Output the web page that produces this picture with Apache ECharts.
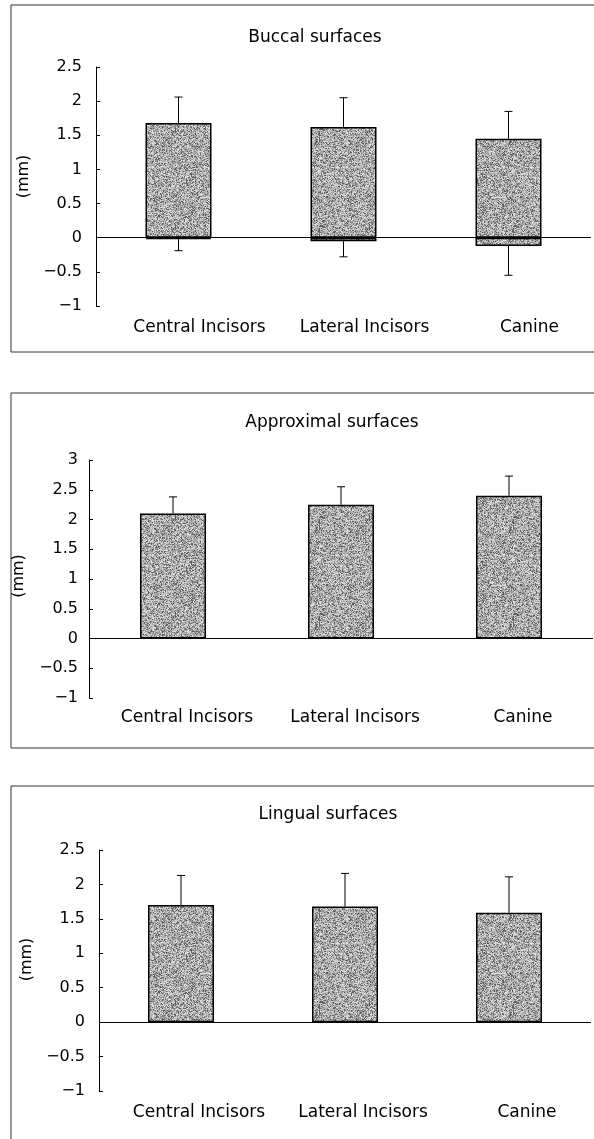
<!DOCTYPE html>
<html>
<head>
<meta charset="utf-8">
<script src="https://cdn.jsdelivr.net/npm/echarts@6/dist/echarts.min.js"></script>
<style>
  html, body { margin: 0; padding: 0; background: #fff; }
  #main { width: 594px; height: 1139px; }
</style>
</head>
<body>
<div id="main"></div>
<script>
// data (mm)
var categories = ['Central Incisors', 'Lateral Incisors', 'Canine'];

var buccalGain = [1.68, 1.62, 1.45];
var buccalGainSD = [0.38, 0.43, 0.40];
var buccalLoss = [-0.02, -0.05, -0.12];
var buccalLossSD = [0.17, 0.23, 0.43];

var approximalMean = [2.10, 2.25, 2.40];
var approximalSD = [0.28, 0.30, 0.33];

var lingualMean = [1.70, 1.68, 1.59];
var lingualSD = [0.43, 0.48, 0.52];

var titles = ['Buccal surfaces', 'Approximal surfaces', 'Lingual surfaces'];
var yMin = [-1, -1, -1];
var yMax = [2.5, 3, 2.5];

// stippled grey fill like the printed figure
function makeStipple() {
    var c = document.createElement('canvas');
    c.width = 97; c.height = 97;
    var ctx = c.getContext('2d');
    var img = ctx.createImageData(97, 97);
    var seed = 12345;
    for (var i = 0; i < 97 * 97; i++) {
        seed = (seed * 1103515245 + 12345) & 0x7fffffff;
        var r = (seed >> 8) % 256;
        var g = r < 45 ? 95 : (r < 120 ? 150 : (r < 200 ? 185 : 220));
        img.data[i * 4] = g; img.data[i * 4 + 1] = g; img.data[i * 4 + 2] = g; img.data[i * 4 + 3] = 255;
    }
    ctx.putImageData(img, 0, 0);
    return c;
}
var stipple = makeStipple();

var chartDom = document.getElementById('main');
var myChart = echarts.init(chartDom);

// panel geometry
var panels = [
    { left: 96, top: 67, width: 495, height: 239, titleX: 310, titleY: 24, labelMargin: 13, labelShift: 42, labelGap: 14, nameGap: 58, namePad: 20, frameY: 5, frameH: 347 },
    { left: 89, top: 460, width: 504, height: 238, titleX: 327, titleY: 409, labelMargin: 11, labelShift: 28, labelGap: 11, nameGap: 62, namePad: 6, frameY: 393, frameH: 355 },
    { left: 99, top: 850, width: 492, height: 241, titleX: 323, titleY: 801, labelMargin: 13, labelShift: 36, labelGap: 14, nameGap: 63, namePad: 22, frameY: 786, frameH: 420 }
];

var fontFam = 'DejaVu Sans';

function errorSeries(idx, means, sds, dir) {
    return {
        type: 'custom',
        xAxisIndex: idx,
        yAxisIndex: idx,
        z: 5,
        data: means.map(function (m, i) { return [i, m, sds[i] * dir]; }),
        renderItem: function (params, api) {
            var p0 = api.coord([api.value(0), api.value(1)]);
            var p1 = api.coord([api.value(0), api.value(1) + api.value(2)]);
            var st = { stroke: '#000', lineWidth: 1 };
            return {
                type: 'group',
                children: [
                    { type: 'line', shape: { x1: p0[0], y1: p0[1], x2: p1[0], y2: p1[1] }, style: st },
                    { type: 'line', shape: { x1: p1[0] - 4, y1: p1[1], x2: p1[0] + 4, y2: p1[1] }, style: st }
                ]
            };
        }
    };
}

function barSeries(idx, values, withZero) {
    var s = {
        type: 'bar',
        xAxisIndex: idx,
        yAxisIndex: idx,
        barWidth: 66,
        barGap: '-100%',
        data: values,
        itemStyle: {
            color: { image: stipple, repeat: 'repeat' },
            borderColor: '#000',
            borderWidth: 1.5
        }
    };
    if (withZero) {
        s.markLine = {
            silent: true,
            symbol: 'none',
            label: { show: false },
            lineStyle: { color: '#000', width: 1, type: 'solid' },
            data: [{ yAxis: 0 }]
        };
    }
    return s;
}

var option = {
    backgroundColor: '#fff',
    animation: false,
    title: panels.map(function (p, i) {
        return {
            text: titles[i],
            left: p.titleX,
            top: p.titleY,
            textAlign: 'center',
            textStyle: { fontFamily: fontFam, fontSize: 17, fontWeight: 'normal', color: '#000' }
        };
    }),
    graphic: panels.map(function (p) {
        return {
            type: 'rect',
            shape: { x: 11, y: p.frameY, width: 620, height: p.frameH },
            style: { fill: 'none', stroke: '#333', lineWidth: 1 },
            silent: true
        };
    }),
    grid: panels.map(function (p) {
        return { left: p.left, top: p.top, width: p.width, height: p.height, containLabel: false };
    }),
    xAxis: panels.map(function (p, i) {
        return {
            type: 'category',
            gridIndex: i,
            data: categories,
            axisLine: { show: false, onZero: false },
            axisTick: { show: false },
            axisLabel: {
                interval: 0,
                hideOverlap: false,
                margin: p.labelMargin,
                fontFamily: fontFam,
                fontSize: 17,
                color: '#000',
                padding: [0, 0, 0, p.labelShift]
            }
        };
    }),
    yAxis: panels.map(function (p, i) {
        return {
            type: 'value',
            gridIndex: i,
            min: yMin[i],
            max: yMax[i],
            interval: 0.5,
            name: '(mm)',
            nameLocation: 'middle',
            nameRotate: 90,
            nameGap: p.nameGap,
            nameTextStyle: { fontFamily: fontFam, fontSize: 16, color: '#000', padding: [0, 0, 0, p.namePad] },
            splitLine: { show: false },
            axisLine: { show: true, lineStyle: { color: '#000', width: 1 } },
            axisTick: { show: true, inside: true, length: 4, lineStyle: { color: '#000' } },
            axisLabel: {
                margin: p.labelGap,
                fontFamily: fontFam,
                fontSize: 16,
                color: '#000',
                formatter: function (v) { return (v < 0 ? '\u2212' : '') + Math.abs(v); }
            }
        };
    }),
    series: [
        barSeries(0, buccalGain, true),
        barSeries(0, buccalLoss, false),
        errorSeries(0, buccalGain, buccalGainSD, 1),
        errorSeries(0, buccalLoss, buccalLossSD, -1),
        barSeries(1, approximalMean, true),
        errorSeries(1, approximalMean, approximalSD, 1),
        barSeries(2, lingualMean, true),
        errorSeries(2, lingualMean, lingualSD, 1)
    ]
};

option && myChart.setOption(option);
</script>
</body>
</html>
